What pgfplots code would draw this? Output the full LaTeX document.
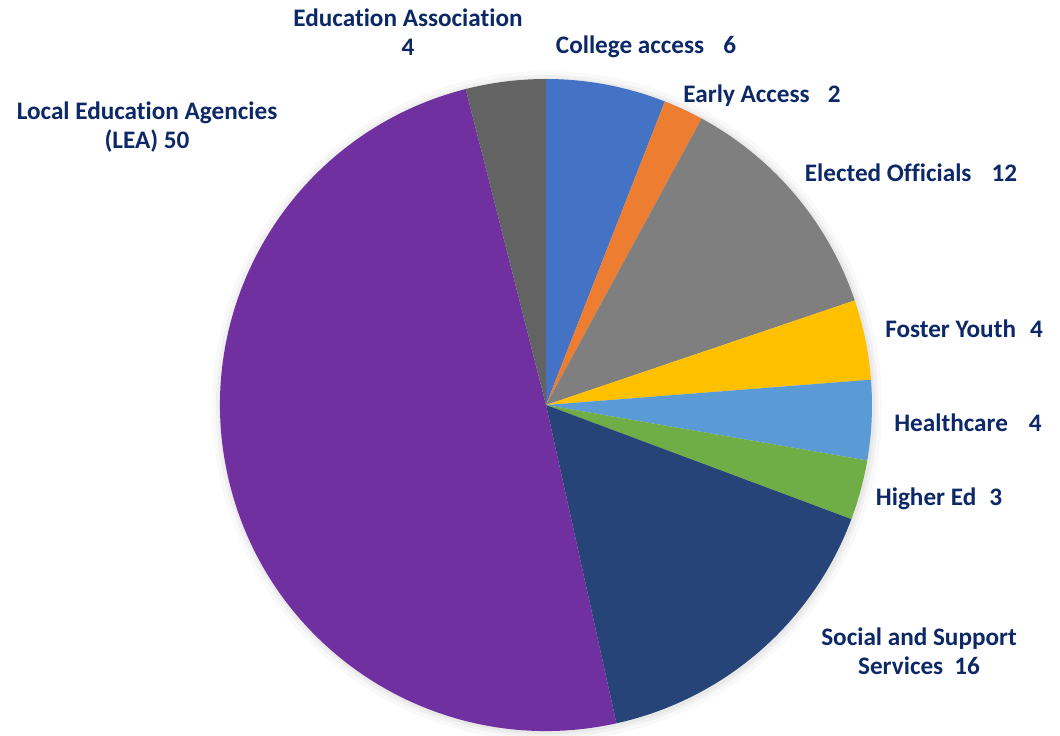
\documentclass[border=0pt]{standalone}
\usepackage{pgfplots}
\pgfplotsset{compat=1.18}
\usepackage{pgfplotstable}
\usepackage{fontspec}
\setmainfont{Carlito}[Ligatures=NoCommon]
\definecolor{txt}{HTML}{0C2866}
\definecolor{slice0}{HTML}{4472C4}
\definecolor{slice1}{HTML}{ED7D31}
\definecolor{slice2}{HTML}{7F7F7F}
\definecolor{slice3}{HTML}{FFC000}
\definecolor{slice4}{HTML}{5B9BD5}
\definecolor{slice5}{HTML}{70AD47}
\definecolor{slice6}{HTML}{264478}
\definecolor{slice7}{HTML}{7030A0}
\definecolor{slice8}{HTML}{636363}

\pgfplotstableread[col sep=comma]{
name,value
College access,6
Early Access,2
Elected Officials,12
Foster Youth,4
Healthcare,4
Higher Ed,3
Social and Support Services,16
Local Education Agencies (LEA),50
Education Association,4
}\piedata

\pgfplotstablegetrowsof{\piedata}
\pgfmathtruncatemacro\N{\pgfplotsretval-1}
\def\total{0}
\pgfplotsforeachungrouped \i in {0,...,\N}{%
  \pgfplotstablegetelem{\i}{value}\of\piedata
  \pgfmathsetmacro\total{\total+\pgfplotsretval}%
}
\pgfmathsetmacro\degper{360/\total}
\def\cum{0}
\pgfplotsforeachungrouped \i in {0,...,\N}{%
  \pgfplotstablegetelem{\i}{value}\of\piedata
  \pgfmathsetmacro\sa{90-\degper*\cum}%
  \pgfmathsetmacro\cum{\cum+\pgfplotsretval}%
  \pgfmathsetmacro\sb{90-\degper*\cum}%
  \expandafter\xdef\csname sa\i\endcsname{\sa}%
  \expandafter\xdef\csname sb\i\endcsname{\sb}%
}

\begin{document}
\begin{tikzpicture}[lbl/.style={text=txt, font=\fontsize{12.6}{14.6}\selectfont\bfseries, align=center, inner sep=0pt}]
\begin{axis}[name=ax, x=0.5pt, y=0.5pt, xmin=0, xmax=1060, ymin=0, ymax=735,
  hide axis, clip=false]
  % soft shadow
  \fill[black, opacity=0.025] (axis cs:547,329) circle[radius=167.5pt];
  \fill[black, opacity=0.03] (axis cs:547,329) circle[radius=165.5pt];
  \fill[black, opacity=0.04] (axis cs:547,329) circle[radius=164pt];
  \pgfplotsinvokeforeach{0,...,8}{%
    \fill[slice#1] (axis cs:546,330) -- ++({\csname sa#1\endcsname}:163pt)
      arc[start angle={\csname sa#1\endcsname}, end angle={\csname sb#1\endcsname}, radius=163pt] -- cycle;
  }
  \node[lbl] at (axis cs:408,703) {Education Association\\4};
  \node[lbl] at (axis cs:646,688) {College access\hspace{9.5pt}6};
  \node[lbl] at (axis cs:762,639) {Early Access\hspace{9pt}2};
  \node[lbl] at (axis cs:911,562) {Elected Officials\hspace{10pt}12};
  \node[lbl] at (axis cs:964,406) {Foster Youth\hspace{7pt}4};
  \node[lbl] at (axis cs:968,312) {Healthcare\hspace{10.5pt}4};
  \node[lbl] at (axis cs:939,236) {Higher Ed\hspace{6.5pt}3};
  \node[lbl] at (axis cs:919,84) {Social and Support\\Services\hspace{5.5pt}16};
  \node[lbl] at (axis cs:147,608) {Local Education Agencies\\(LEA) 50};
\end{axis}
\pgfresetboundingbox
\useasboundingbox (ax.south west) rectangle (ax.north east);
\end{tikzpicture}
\end{document}
